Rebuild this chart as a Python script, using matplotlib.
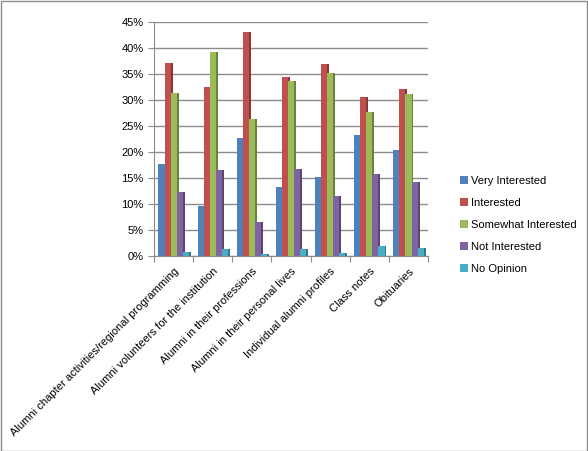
import numpy as np
import matplotlib.pyplot as plt
from matplotlib.patches import Rectangle
from matplotlib.ticker import PercentFormatter
from matplotlib.colors import to_rgb

plt.rcParams["font.family"] = ["Liberation Sans", "DejaVu Sans"]

categories = [
    "Alumni chapter activities/regional programming",
    "Alumni volunteers for the institution",
    "Alumni in their professions",
    "Alumni in their personal lives",
    "Individual alumni profiles",
    "Class notes",
    "Obituaries",
]
series_names = ["Very Interested", "Interested", "Somewhat Interested",
                "Not Interested", "No Opinion"]
very_interested = [17.6, 9.6, 22.6, 13.3, 15.2, 23.2, 20.4]
interested = [37.0, 32.4, 43.0, 34.4, 36.9, 30.6, 32.1]
somewhat = [31.3, 39.1, 26.3, 33.6, 35.1, 27.6, 31.1]
not_interested = [12.3, 16.5, 6.5, 16.7, 11.6, 15.8, 14.2]
no_opinion = [0.8, 1.3, 0.5, 1.3, 0.7, 2.0, 1.5]
colors = ["#4F81BD", "#C0504D", "#9BBB59", "#8064A2", "#4BACC6"]

values = [very_interested, interested, somewhat, not_interested, no_opinion]


def darker(c, f=0.7):
    return tuple(v * f for v in to_rgb(c))


fig = plt.figure(figsize=(5.88, 4.51), dpi=100)
ax = fig.add_axes([0.262, 0.432, 0.466, 0.520])

x = np.arange(len(categories))
w = 0.155
depth = 0.05
for i, (vals, col) in enumerate(zip(values, colors)):
    pos = x + (i - 2) * w
    # side face (fake 3D)
    ax.bar(pos + w / 2 + depth / 2, vals, width=depth, color=darker(col),
           linewidth=0, zorder=2)
    ax.bar(pos, vals, width=w, color=col, linewidth=0, zorder=3,
           label=series_names[i])

ax.set_xlim(-0.5, len(categories) - 0.5)
ax.set_ylim(0, 45)
ax.set_yticks(np.arange(0, 46, 5))
ax.yaxis.set_major_formatter(PercentFormatter(decimals=0))
ax.yaxis.grid(True, color="#8c8c8c", linewidth=1.0, zorder=0)
ax.set_axisbelow(True)
ax.set_xticks(np.arange(len(categories) + 1) - 0.5, minor=False)
ax.set_xticklabels([])
ax.set_xticks(x, minor=True)
ax.set_xticklabels(categories, minor=True, rotation=45, ha="right",
                   rotation_mode="anchor", fontsize=8)
ax.tick_params(axis="x", which="minor", length=0, pad=7)
ax.tick_params(axis="x", which="major", length=4, color="#8c8c8c")
ax.tick_params(axis="y", length=4, color="#8c8c8c", labelsize=8)
for s in ["top", "right"]:
    ax.spines[s].set_visible(False)
for s in ["left", "bottom"]:
    ax.spines[s].set_color("#8c8c8c")

leg = fig.legend(loc="center left", bbox_to_anchor=(0.765, 0.502),
                 frameon=False, fontsize=8, handlelength=0.7,
                 handleheight=0.7, labelspacing=1.08, handletextpad=0.35)

fig.patches.append(Rectangle((0.001, 0.001), 0.997, 0.997,
                             transform=fig.transFigure, fill=False,
                             edgecolor="#8c8c8c", linewidth=1.0))

fig.savefig("out.png", dpi=100)
